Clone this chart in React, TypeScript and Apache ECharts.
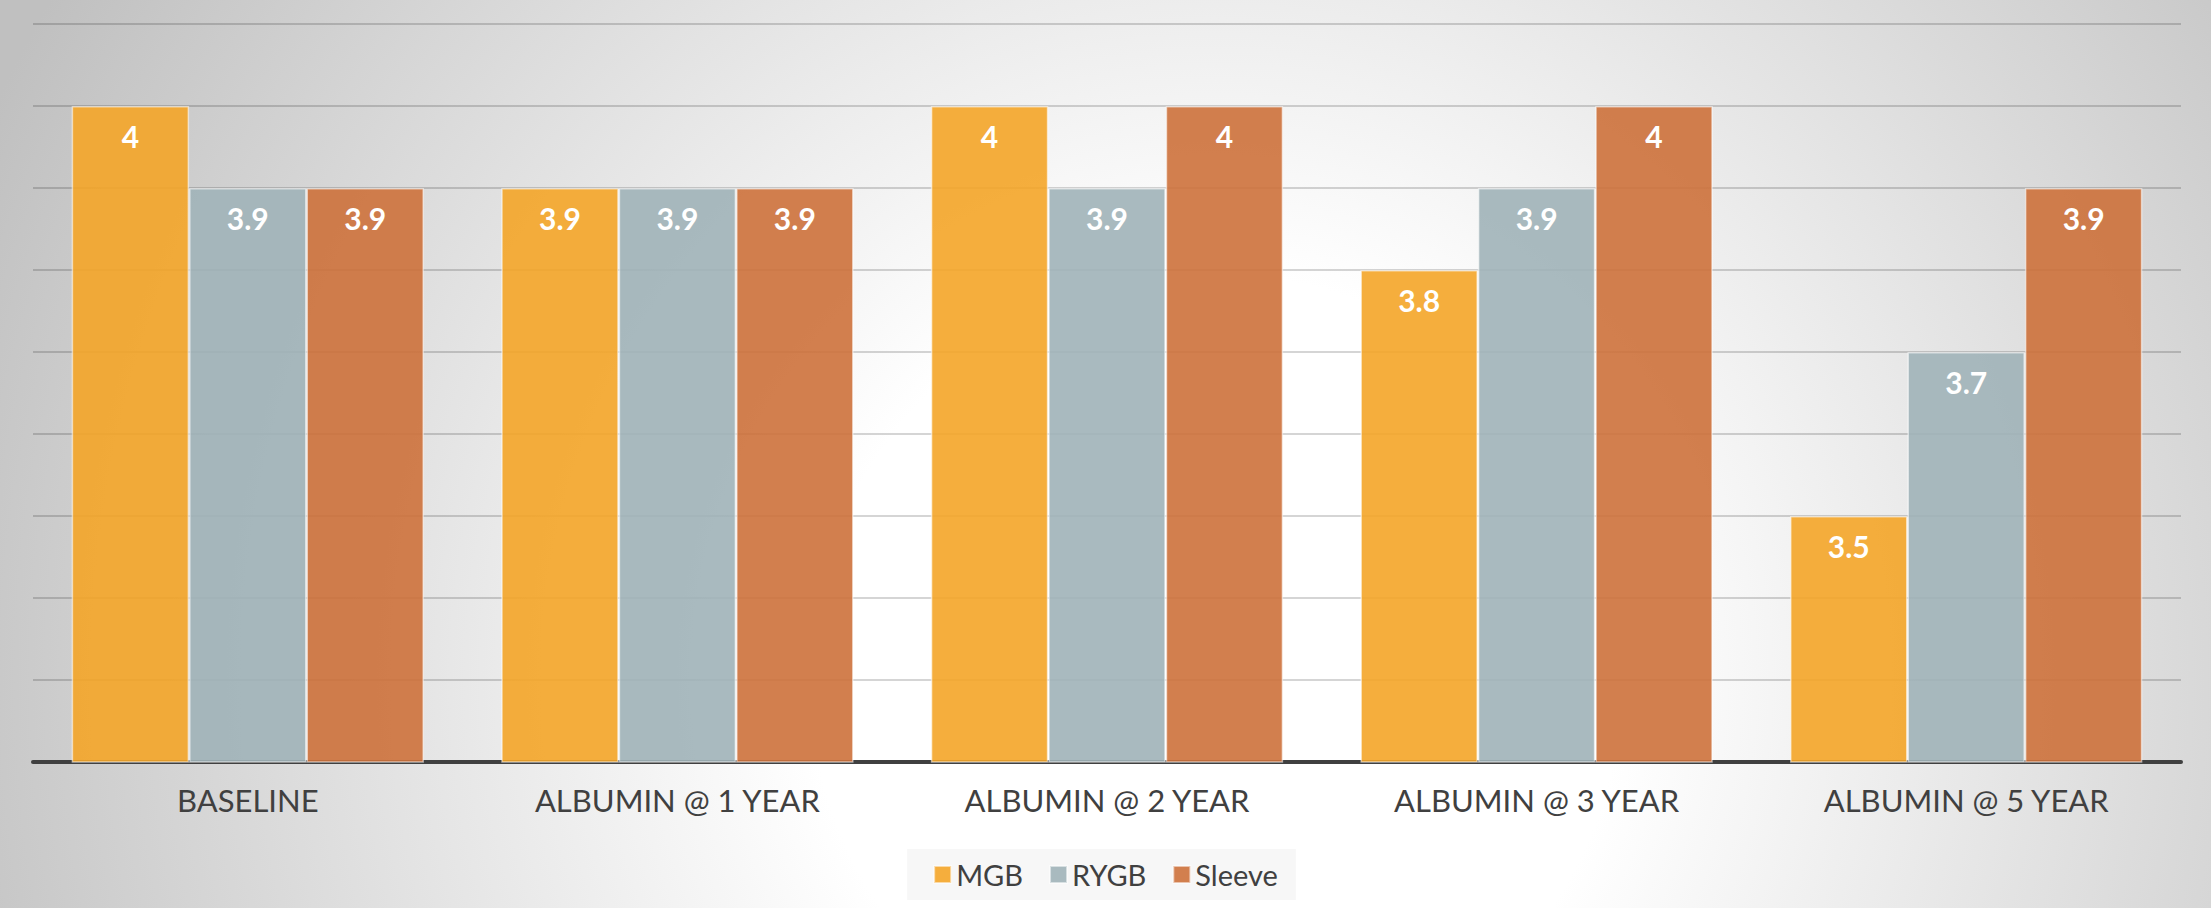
import React, { useEffect, useRef } from "react";
import * as echarts from "echarts";

const categories = ["BASELINE", "ALBUMIN @ 1 YEAR", "ALBUMIN @ 2 YEAR", "ALBUMIN @ 3 YEAR", "ALBUMIN @ 5 YEAR"];
const mgb = [4, 3.9, 4, 3.8, 3.5];
const rygb = [3.9, 3.9, 3.9, 3.9, 3.7];
const sleeve = [3.9, 3.9, 4, 4, 3.9];
const seriesNames = ["MGB", "RYGB", "Sleeve"];
const seriesColors = ["rgba(244,165,40,0.9)", "rgba(160,178,184,0.9)", "rgba(205,113,59,0.9)"];

const W = 2211;
const H = 908;

export default function App() {
  const ref = useRef<HTMLDivElement>(null);
  useEffect(() => {
    if (!ref.current) return;
    const chart = echarts.init(ref.current, undefined, { renderer: "svg", width: W, height: H });
    const dataSets = [mgb, rygb, sleeve];
    chart.setOption({
      animation: false,
      graphic: [
        {
          type: "rect",
          z: -10,
          silent: true,
          shape: { x: 0, y: 0, width: W, height: H },
          style: {
            fill: new echarts.graphic.RadialGradient(1216, 680, 1350, [
              { offset: 0, color: "#ffffff" },
              { offset: 0.3, color: "#ffffff" },
              { offset: 1, color: "#c0c0c0" },
            ], true),
          },
        },
      ],
      grid: { left: 33, right: 30, top: 24, bottom: 146 },
      legend: {
        data: seriesNames,
        bottom: 8,
        left: "center",
        itemWidth: 17,
        itemHeight: 17,
        itemGap: 26,
        icon: "rect",
        padding: [11, 18, 11, 26],
        backgroundColor: "rgba(247,247,247,0.95)",
        textStyle: { fontSize: 29, color: "#404040", fontFamily: "Lato" },
      },
      xAxis: {
        type: "category",
        data: categories,
        axisLine: { show: true, lineStyle: { color: "#404040", width: 4 } },
        axisTick: { show: false },
        axisLabel: { fontSize: 31, color: "#404040", fontFamily: "Lato", margin: 22 },
      },
      yAxis: {
        type: "value",
        min: 3.2,
        max: 4.1,
        interval: 0.1,
        axisLine: { show: false },
        axisTick: { show: false },
        axisLabel: { show: false },
        splitLine: { show: true, lineStyle: { color: "rgba(0,0,0,0.22)", width: 1.5 } },
      },
      series: dataSets.map((d, i) => ({
        name: seriesNames[i],
        type: "bar",
        data: d,
        barGap: "0%",
        barCategoryGap: "18%",
        itemStyle: { color: seriesColors[i], borderColor: "rgba(255,255,255,0.55)", borderWidth: 1.5 },
        label: {
          show: true,
          position: "insideTop",
          distance: 15,
          color: "#ffffff",
          fontSize: 30,
          fontWeight: "bold",
          fontFamily: "Lato",
        },
      })),
    });
    return () => chart.dispose();
  }, []);
  return <div ref={ref} style={{ position: "absolute", left: 0, top: 0, width: W, height: H }} />;
}
